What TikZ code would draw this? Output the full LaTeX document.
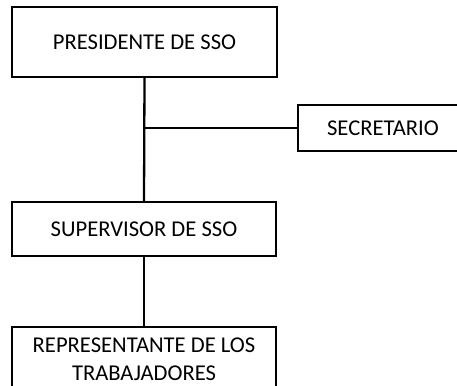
\documentclass[tikz,border=0pt]{standalone}
\usepackage{fontspec}
\setmainfont{Carlito}
\begin{document}
\begin{tikzpicture}[x=1pt,y=-1pt,
  box/.style={draw=black,line width=2.3pt,inner sep=0pt,align=center,font=\fontsize{22.6}{28.5}\selectfont},
  conn/.style={draw=black,line width=2.3pt}]
\useasboundingbox (0,0) rectangle (457,385);
\clip (0,0) rectangle (457,385);
\node[box,minimum width=265pt,minimum height=70pt] (pres) at (144.5,42) {PRESIDENTE DE SSO};
\node[box,minimum width=170pt,minimum height=46pt] (sec) at (383,128) {SECRETARIO};
\node[box,minimum width=264pt,minimum height=54pt] (sup) at (144,229) {SUPERVISOR DE SSO};
\node[box,minimum width=264pt,minimum height=64pt] (rep) at (144,359) {REPRESENTANTE DE LOS\\TRABAJADORES};
\coordinate (j) at (pres.south |- sec.west);
\draw[conn] (pres.south) -- (sup.north);
\draw[conn] (j) -- (sec.west);
\draw[conn] (sup.south) -- (rep.north);
\end{tikzpicture}
\end{document}
